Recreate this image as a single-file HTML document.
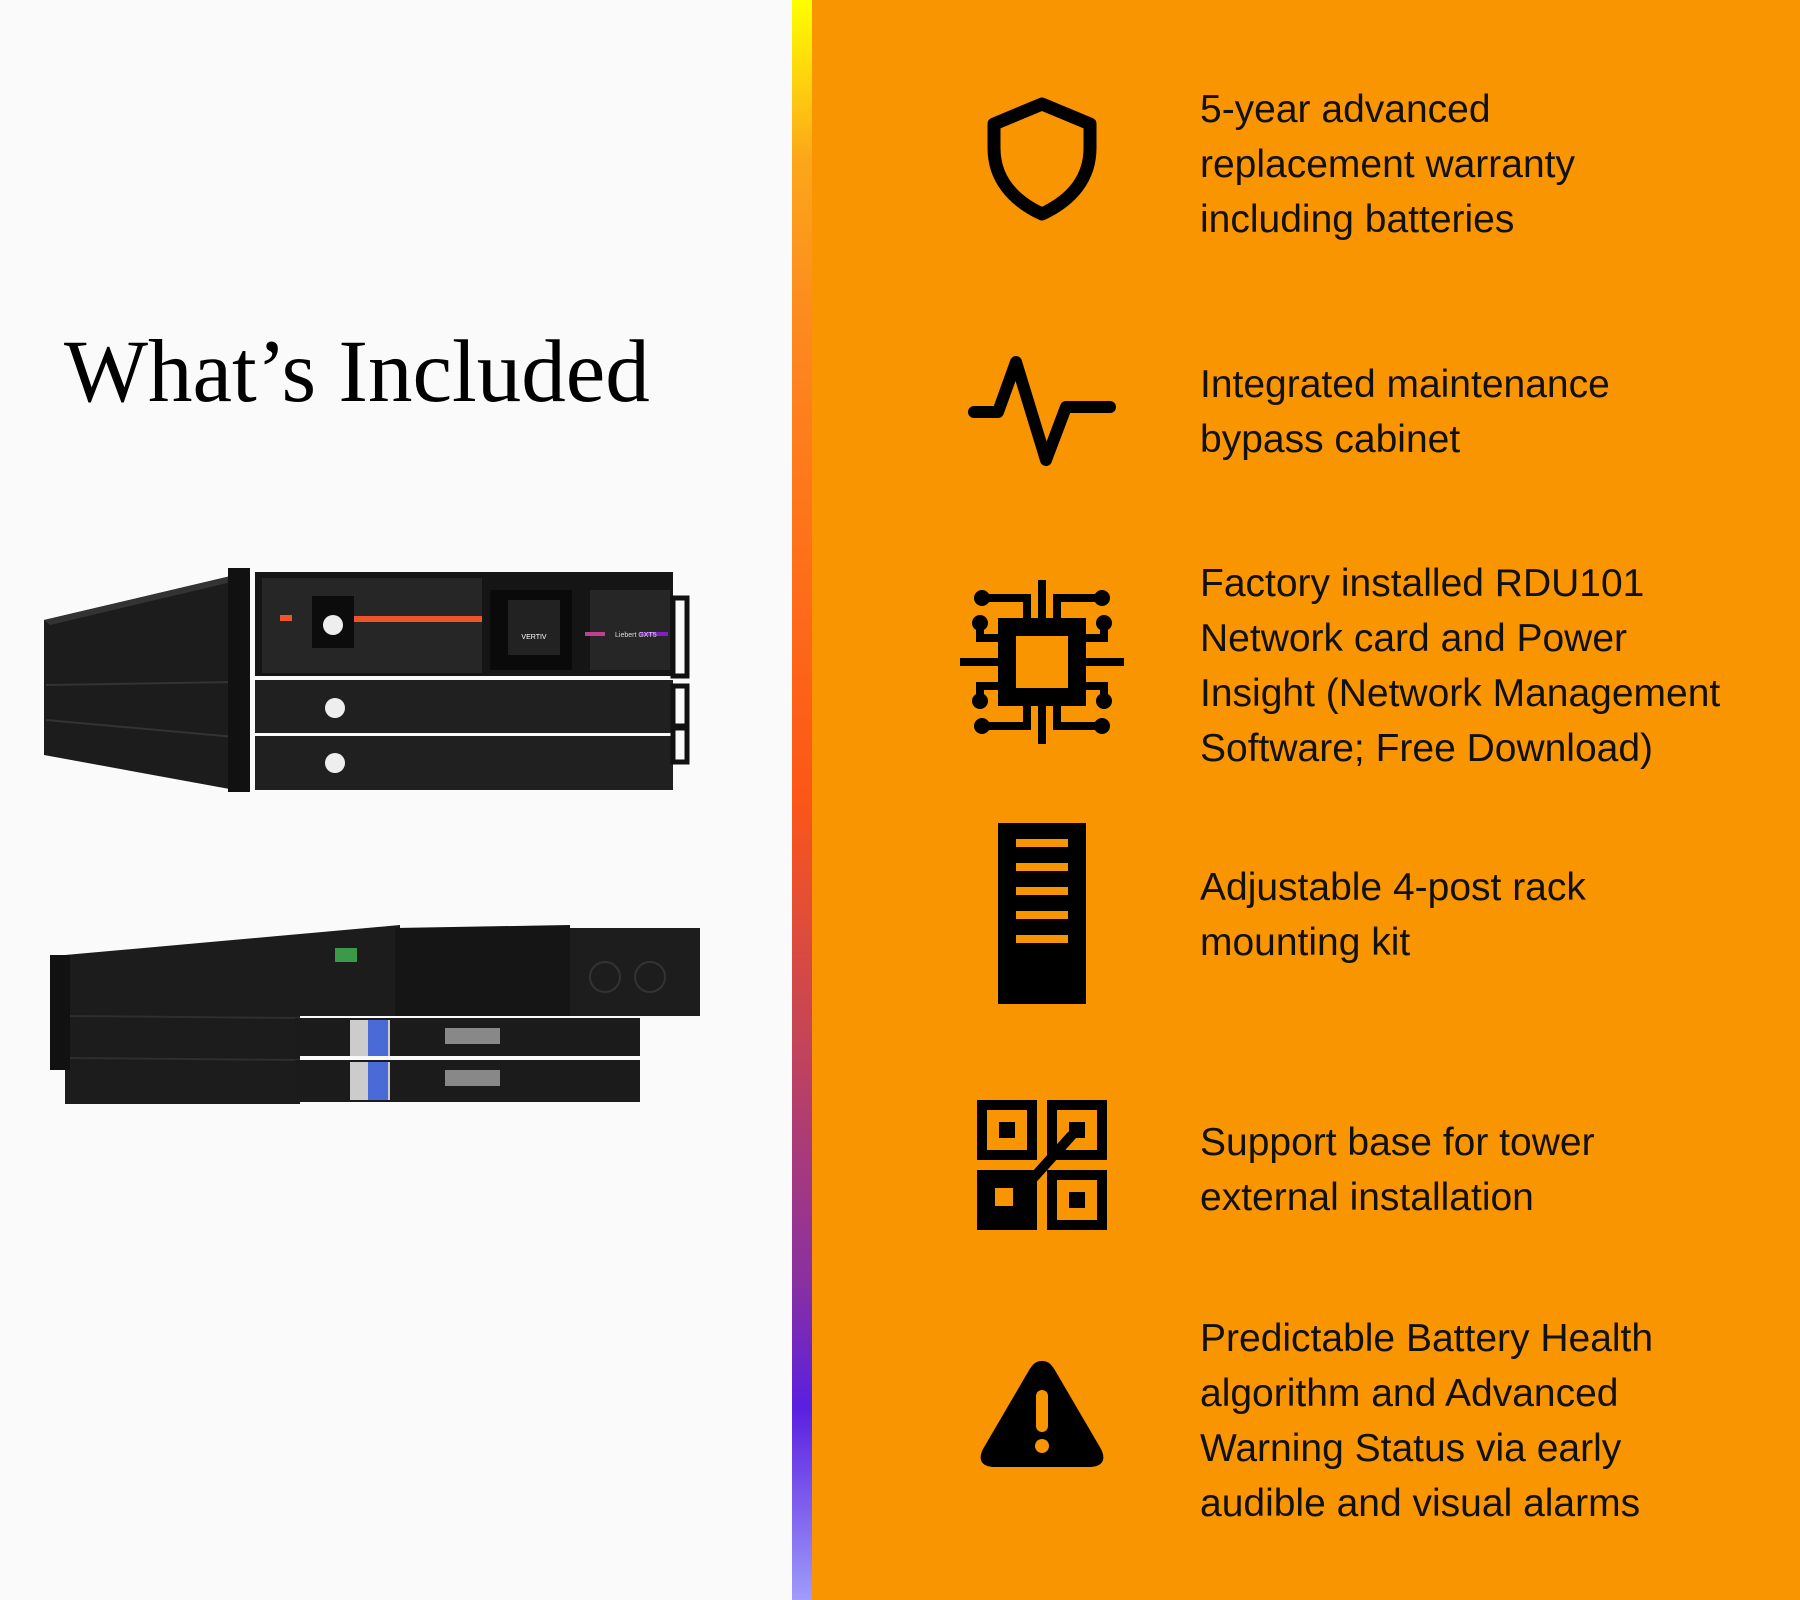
<!DOCTYPE html>
<html><head><meta charset="utf-8"><style>
*{margin:0;padding:0}
body{width:1800px;height:1600px;position:relative;background:#fafafa;overflow:hidden;font-family:"Liberation Sans",sans-serif}
#bar{position:absolute;left:792px;top:0;width:20px;height:1600px;background:linear-gradient(#ffff00 0%,#fca61a 10%,#fd8a1f 20%,#fe7019 35%,#fc5618 50%,#c44458 65%,#8a30a0 80%,#5a1fe0 88%,#a09cfa 100%)}
#right{position:absolute;left:812px;top:0;width:988px;height:1600px;background:#f99500}
h1{position:absolute;left:64px;top:321px;font-family:"Liberation Serif",serif;font-weight:normal;font-size:89px;color:#000;white-space:nowrap}
.t{position:absolute;left:1200px;font-size:39px;line-height:55px;color:#111;white-space:nowrap}
svg{position:absolute}
</style></head><body>
<div id="bar"></div><div id="right"></div>
<h1>What’s Included</h1>

<svg width="1800" height="1600" style="left:0;top:0">
<!-- top unit -->
<polygon points="44,620 235,575 235,790 44,755" fill="#1c1c1c"/>
<polygon points="44,620 235,575 240,580 50,625" fill="#333"/>
<line x1="46" y1="685" x2="235" y2="682" stroke="#333" stroke-width="2"/>
<line x1="46" y1="720" x2="235" y2="737" stroke="#333" stroke-width="2"/>
<rect x="228" y="568" width="22" height="224" fill="#111"/>
<rect x="255" y="572" width="418" height="104" fill="#151515"/>
<rect x="262" y="578" width="220" height="95" fill="#262626"/>
<rect x="312" y="616" width="170" height="6" fill="#f0552a"/>
<rect x="280" y="615" width="12" height="6" fill="#f0552a"/>
<rect x="312" y="596" width="42" height="52" fill="#0c0c0c"/>
<circle cx="333" cy="625" r="10" fill="#eee"/>
<rect x="490" y="590" width="82" height="80" fill="#0a0a0a"/>
<rect x="508" y="600" width="52" height="55" fill="#222"/>
<text x="534" y="639" font-size="7" fill="#fff" text-anchor="middle" font-family="Liberation Sans">VERTIV</text>
<rect x="590" y="590" width="80" height="80" fill="#262626"/>
<rect x="585" y="632" width="20" height="4" fill="#c04090"/>
<rect x="640" y="632" width="28" height="4" fill="#8020c0"/>
<text x="615" y="637" font-size="7" fill="#ddd" font-family="Liberation Sans">Liebert GXT5</text>
<rect x="673" y="598" width="14" height="78" fill="none" stroke="#111" stroke-width="5"/>
<rect x="255" y="680" width="418" height="53" fill="#202020"/>
<rect x="255" y="736" width="418" height="54" fill="#202020"/>
<circle cx="335" cy="708" r="10" fill="#eee"/>
<circle cx="335" cy="763" r="10" fill="#eee"/>
<rect x="673" y="686" width="14" height="40" fill="none" stroke="#111" stroke-width="5"/>
<rect x="673" y="728" width="14" height="34" fill="none" stroke="#111" stroke-width="5"/>
<!-- bottom unit -->
<polygon points="65,955 400,925 400,1016 300,1016 300,1104 65,1104" fill="#1c1c1c"/>
<line x1="66" y1="1016" x2="300" y2="1018" stroke="#2e2e2e" stroke-width="2"/>
<line x1="66" y1="1058" x2="300" y2="1060" stroke="#2e2e2e" stroke-width="2"/>
<rect x="50" y="955" width="20" height="115" fill="#111"/>
<polygon points="395,928 570,925 570,1016 395,1016" fill="#151515"/>
<rect x="570" y="928" width="130" height="88" fill="#1d1d1d"/>
<circle cx="605" cy="977" r="15" fill="none" stroke="#333" stroke-width="2"/>
<circle cx="650" cy="977" r="15" fill="none" stroke="#333" stroke-width="2"/>
<rect x="335" y="948" width="22" height="14" fill="#3a9a4a"/>
<rect x="295" y="1018" width="345" height="38" fill="#1b1b1b"/>
<rect x="295" y="1060" width="345" height="42" fill="#1b1b1b"/>
<rect x="350" y="1020" width="40" height="36" fill="#ccc"/>
<rect x="368" y="1020" width="20" height="36" fill="#4a6ad8"/>
<rect x="350" y="1062" width="40" height="38" fill="#ccc"/>
<rect x="368" y="1062" width="20" height="38" fill="#4a6ad8"/>
<rect x="445" y="1028" width="55" height="16" fill="#888"/>
<rect x="445" y="1070" width="55" height="16" fill="#888"/>
</svg>

<!-- shield -->
<svg style="left:984px;top:96px" width="116" height="126" viewBox="0 0 116 126"><path d="M58 8 L106 28 V52 C106 82 88 104 58 118 C28 104 10 82 10 52 V28 Z" fill="none" stroke="#000" stroke-width="13" stroke-linejoin="round"/></svg>
<!-- pulse -->
<svg style="left:968px;top:352px" width="148" height="118" viewBox="0 0 148 118"><path d="M6 60 H30 L48 10 L78 108 L98 55 H142" fill="none" stroke="#000" stroke-width="12" stroke-linecap="round" stroke-linejoin="round"/></svg>
<!-- chip -->
<svg style="left:960px;top:580px" width="164" height="164" viewBox="0 0 164 164">
<rect x="47" y="47" width="70" height="70" fill="none" stroke="#000" stroke-width="18"/>
<g stroke="#000" stroke-width="8" fill="none">
<path d="M82 0V38 M82 126V164 M0 82H40 M124 82H164"/>
<path d="M67 40V18H22 M97 40V18H142 M67 124V146H22 M97 124V146H142"/>
<path d="M40 58H20V43 M124 58H144V43 M40 106H20V121 M124 106H144V121"/>
</g>
<g fill="#000"><circle cx="22" cy="18" r="8"/><circle cx="142" cy="18" r="8"/><circle cx="22" cy="146" r="8"/><circle cx="142" cy="146" r="8"/><circle cx="20" cy="43" r="8"/><circle cx="144" cy="43" r="8"/><circle cx="20" cy="121" r="8"/><circle cx="144" cy="121" r="8"/></g>
</svg>
<!-- rack -->
<svg style="left:998px;top:823px" width="88" height="181" viewBox="0 0 88 181"><rect width="88" height="181" fill="#000"/><g fill="#f99500"><rect x="18" y="16" width="52" height="8"/><rect x="18" y="40" width="52" height="8"/><rect x="18" y="64" width="52" height="8"/><rect x="18" y="88" width="52" height="8"/><rect x="18" y="112" width="52" height="8"/></g></svg>
<!-- qr -->
<svg style="left:977px;top:1100px" width="130" height="130" viewBox="0 0 130 130">
<g fill="none" stroke="#000" stroke-width="10"><rect x="5" y="5" width="50" height="50"/><rect x="75" y="5" width="50" height="50"/><rect x="75" y="75" width="50" height="50"/><path d="M95 35 L50 85"/></g>
<rect x="0" y="70" width="60" height="60" fill="#000"/><rect x="18" y="88" width="18" height="18" fill="#f99500"/>
<rect x="22" y="22" width="16" height="16" fill="#000"/><rect x="92" y="92" width="16" height="16" fill="#000"/><rect x="92" y="22" width="16" height="16" fill="#000"/>
</svg>
<!-- warning -->
<svg style="left:977px;top:1357px" width="130" height="112" viewBox="0 0 130 112"><path d="M65 4 C72 4 75 8 79 15 L124 92 C130 104 124 110 112 110 H18 C6 110 0 104 6 92 L51 15 C55 8 58 4 65 4Z" fill="#000"/><rect x="59" y="33" width="12" height="42" rx="6" fill="#f99500"/><circle cx="65" cy="89" r="7" fill="#f99500"/></svg>

<div class="t" style="top:82px">5-year advanced<br>replacement warranty<br>including batteries</div>
<div class="t" style="top:357px">Integrated maintenance<br>bypass cabinet</div>
<div class="t" style="top:556px">Factory installed RDU101<br>Network card and Power<br>Insight (Network Management<br>Software; Free Download)</div>
<div class="t" style="top:860px">Adjustable 4-post rack<br>mounting kit</div>
<div class="t" style="top:1115px">Support base for tower<br>external installation</div>
<div class="t" style="top:1311px">Predictable Battery Health<br>algorithm and Advanced<br>Warning Status via early<br>audible and visual alarms</div>
</body></html>
